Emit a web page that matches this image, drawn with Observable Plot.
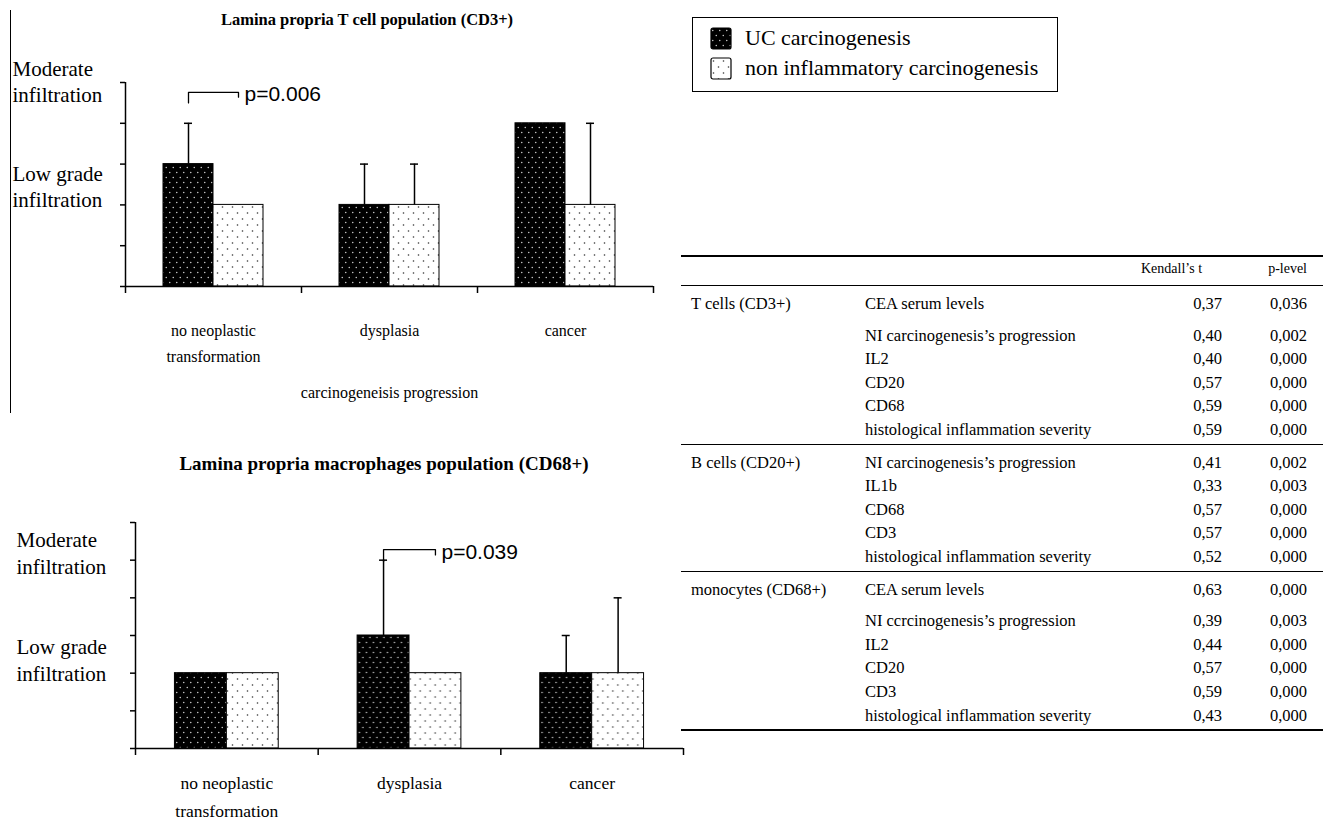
<!DOCTYPE html>
<html>
<head>
<meta charset="utf-8">
<script src="https://cdn.jsdelivr.net/npm/d3@7"></script>
<script src="https://cdn.jsdelivr.net/npm/@observablehq/plot@0.6"></script>
<style>
  html, body { margin: 0; padding: 0; background: #fff; }
  body { position: relative; width: 1323px; height: 820px; overflow: hidden;
         font-family: "Liberation Serif", "Times New Roman", serif; color: #000; }
  body svg { font-family: "Liberation Serif", "Times New Roman", serif !important; }
  .abs { position: absolute; }
  .chart-title { font-weight: bold; white-space: nowrap; transform: translate(-50%, -50%); line-height: 1; }
  #panelLine { left: 10px; top: 10px; width: 0; height: 403px; border-left: 1.5px solid #000; }
  #legend { left: 692px; top: 17px; width: 366px; height: 75px; border: 1.5px solid #000;
            box-sizing: border-box; padding: 7px 0 0 18px; }
  #legend, #legend * { font-family: "Liberation Serif", "Times New Roman", serif !important; }
  #legend .lg-swatches { font-size: 22px; margin: 0; color: #000; width: auto !important; }
  #legend .lg-swatch { padding-bottom: 4px; line-height: 26px; }
  #legend .lg-swatch-label { overflow: visible !important; text-overflow: clip !important; line-height: 26px; }
  #legend .lg-swatch > svg { margin-right: 14px; overflow: visible; }
  #legend rect { stroke: #000; stroke-width: 1.2px; rx: 2px; }
  #corr { left: 681px; top: 255px; width: 642px; border-collapse: collapse; table-layout: fixed;
          font-size: 16.5px; line-height: 23.6px; }
  #corr thead tr { border-top: 2px solid #000; border-bottom: 1px solid #000; }
  #corr th { font-weight: normal; font-size: 14px; line-height: 24px; padding: 0 0 4px 0; white-space: nowrap; }
  #corr td { padding: 0; white-space: nowrap; }
  #corr tbody { border-bottom: 1.5px solid #000; }
  #corr tbody:last-of-type { border-bottom: 2px solid #000; }
  #corr tr.first td { padding-top: 6px; }
  #corr tr.spaced td { padding-bottom: 8px; }
  #corr tr.last td { padding-bottom: 2px; }
  #corr .c0 { padding-left: 10px; text-align: left; }
  #corr .c1 { text-align: left; }
  #corr .c2 { text-align: right; padding-right: 8px; }
  #corr th.c2 { text-align: left; padding-right: 0; }
  #corr .c3 { text-align: right; padding-right: 16px; }
</style>
</head>
<body>
<div id="panelLine" class="abs"></div>
<script>
// ---------------- data ----------------
const series = ["UC carcinogenesis", "non inflammatory carcinogenesis"];
const categories = ["no neoplastic\ntransformation", "dysplasia", "cancer"];
const xAxisTitle = "carcinogeneisis progression";
const levelLabels = ["Moderate\ninfiltration", "Low grade\ninfiltration"];

// T cells (CD3+)
const cd3Title = "Lamina propria T cell population (CD3+)";
const cd3UC = [1.5, 1.0, 2.0];
const cd3UCUpper = [2.0, 1.5, null];
const cd3NI = [1.0, 1.0, 1.0];
const cd3NIUpper = [null, 1.5, 2.0];
const cd3Ticks = [0, 0.5, 1, 1.5, 2, 2.5];
const cd3LevelY = [2.52, 1.23];
const cd3SigCategory = 0;
const cd3BracketY = [2.25, 2.38, 2.38, 2.32];
const cd3P = "p=0.006";
const cd3PY = 2.35;

// macrophages (CD68+)
const cd68Title = "Lamina propria macrophages population (CD68+)";
const cd68UC = [1.0, 1.5, 1.0];
const cd68UCUpper = [null, 2.5, 1.5];
const cd68NI = [1.0, 1.0, 1.0];
const cd68NIUpper = [null, null, 2.0];
const cd68Ticks = [0, 0.5, 1, 1.5, 2, 2.5, 3];
const cd68LevelY = [2.61, 1.19];
const cd68SigCategory = 1;
const cd68BracketY = [2.48, 2.64, 2.64, 2.57];
const cd68P = "p=0.039";
const cd68PY = 2.60;

// correlation table
const tableHeader = ["", "", "Kendall’s t", "p-level"];
const tableGroups = ["T cells (CD3+)", "B cells (CD20+)", "monocytes (CD68+)"];
const tableVariables = [
  ["CEA serum levels", "NI carcinogenesis’s progression", "IL2", "CD20", "CD68", "histological inflammation severity"],
  ["NI carcinogenesis’s progression", "IL1b", "CD68", "CD3", "histological inflammation severity"],
  ["CEA serum levels", "NI ccrcinogenesis’s progression", "IL2", "CD20", "CD3", "histological inflammation severity"]
];
const tableTau = [
  ["0,37", "0,40", "0,40", "0,57", "0,59", "0,59"],
  ["0,41", "0,33", "0,57", "0,57", "0,52"],
  ["0,63", "0,39", "0,44", "0,57", "0,59", "0,43"]
];
const tableP = [
  ["0,036", "0,002", "0,000", "0,000", "0,000", "0,000"],
  ["0,002", "0,003", "0,000", "0,000", "0,000"],
  ["0,000", "0,003", "0,000", "0,000", "0,000", "0,000"]
];

// ---------------- styles ----------------
const SERIF = "Liberation Serif, Times New Roman, serif";
const SANS = "Liberation Sans, Arial, sans-serif";
const PAD_OUTER = 0.76;
const CAP = 8;
const PATTERNS = ["url(#dotUC)", "url(#dotNI)"];

// pattern definitions
const defs = d3.select("body").append("svg")
  .attr("width", 0).attr("height", 0).style("position", "absolute").append("defs");
{
  const p = defs.append("pattern").attr("id", "dotUC").attr("patternUnits", "userSpaceOnUse")
    .attr("width", 7).attr("height", 10);
  p.append("rect").attr("width", 7).attr("height", 10).attr("fill", "#000");
  p.append("circle").attr("cx", 1.75).attr("cy", 2.5).attr("r", 0.75).attr("fill", "#d0d0d0");
  p.append("circle").attr("cx", 5.25).attr("cy", 7.5).attr("r", 0.75).attr("fill", "#d0d0d0");
  const q = defs.append("pattern").attr("id", "dotNI").attr("patternUnits", "userSpaceOnUse")
    .attr("width", 10).attr("height", 12);
  q.append("rect").attr("width", 10).attr("height", 12).attr("fill", "#fff");
  q.append("circle").attr("cx", 2.5).attr("cy", 3).attr("r", 0.8).attr("fill", "#333");
  q.append("circle").attr("cx", 7.5).attr("cy", 9).attr("r", 0.8).attr("fill", "#333");
}

function chart(cfg) {
  const rows = [];
  categories.forEach((c, i) => {
    rows.push({cat: c, series: series[0], value: cfg.uc[i], upper: cfg.ucUpper[i]});
    rows.push({cat: c, series: series[1], value: cfg.ni[i], upper: cfg.niUpper[i]});
  });
  const errs = rows.filter(d => d.upper != null);
  const yMax = cfg.ticks[cfg.ticks.length - 1];
  const facetW = (cfg.width - cfg.marginLeft - cfg.marginRight) / categories.length;
  const step = facetW / (series.length + 2 * PAD_OUTER);
  const edge = step / 2 + step * PAD_OUTER;
  const capInset = (step - CAP) / 2;
  const edges = categories.map((c, i) => ({cat: c, top: i === 0 ? yMax : 0}));
  const sigCat = categories[cfg.sigCategory];
  const bracket = cfg.bracketY.map((y, i) => ({cat: sigCat, series: series[i < 2 ? 0 : 1], y}));

  const svg = Plot.plot({
    width: cfg.width, height: cfg.height,
    marginLeft: cfg.marginLeft, marginRight: cfg.marginRight,
    marginTop: cfg.marginTop, marginBottom: cfg.marginBottom,
    style: {background: "transparent", fontFamily: SERIF, color: "#000", overflow: "visible"},
    fx: {domain: categories, padding: 0, round: false, axis: null},
    x: {domain: series, paddingInner: 0, paddingOuter: PAD_OUTER, round: false, axis: null},
    y: {domain: [0, yMax], axis: null},
    color: {type: "ordinal", domain: series, range: PATTERNS},
    marks: [
      Plot.barY(rows, {fx: "cat", x: "series", y: "value", fill: "series", stroke: "#000", strokeWidth: 1}),
      Plot.ruleX(errs, {fx: "cat", x: "series", y1: "value", y2: "upper", stroke: "#000", strokeWidth: 1.5}),
      Plot.tickY(errs, {fx: "cat", x: "series", y: "upper", insetLeft: capInset, insetRight: capInset,
                        stroke: "#000", strokeWidth: 1.5}),
      Plot.axisY({ticks: cfg.ticks, tickSize: 5, tickFormat: () => "", strokeWidth: 1.5, label: null}),
      Plot.ruleY([0], {stroke: "#000", strokeWidth: 1.5}),
      Plot.ruleX(edges, {fx: "cat", x: () => series[0], y1: "top", y2: () => 0, insetBottom: -7,
                         dx: -edge, stroke: "#000", strokeWidth: 1.5}),
      Plot.ruleX(edges.slice(-1), {fx: "cat", x: () => series[series.length - 1], y1: () => 0, y2: () => 0,
                         insetBottom: -7, dx: edge, stroke: "#000", strokeWidth: 1.5}),
      Plot.line(bracket, {fx: "cat", x: "series", y: "y", stroke: "#000", strokeWidth: 1.3}),
      Plot.text([cfg.p], {fx: () => sigCat, x: () => series[1], y: () => cfg.pY, text: d => d,
                          textAnchor: "start", dx: 6, fontFamily: SANS, fontSize: cfg.pSize}),
      Plot.text(levelLabels, {fx: () => categories[0], y: (d, i) => cfg.levelY[i], text: d => d,
                              frameAnchor: "left", textAnchor: "start", dx: -(cfg.marginLeft - cfg.levelX),
                              fontFamily: SERIF, fontSize: cfg.levelSize, lineHeight: cfg.levelLine}),
      Plot.text(categories, {fx: d => d, text: d => d, frameAnchor: "bottom", lineAnchor: "top",
                             dy: cfg.catDy, fontFamily: SERIF, fontSize: cfg.catSize, lineHeight: cfg.catLine}),
      ...(cfg.axisTitle ? [Plot.text([cfg.axisTitle], {fx: () => categories[1], text: d => d,
                             frameAnchor: "bottom", lineAnchor: "top", dy: cfg.axisTitleDy,
                             fontFamily: SERIF, fontSize: cfg.catSize})] : [])
    ]
  });
  svg.style.position = "absolute";
  svg.style.left = cfg.left + "px";
  svg.style.top = cfg.top + "px";
  document.body.appendChild(svg);
  // keep the sans-serif p-value labels in their own font
  d3.select(svg).selectAll("g[font-family]").each(function () {
    const f = this.getAttribute("font-family");
    this.style.setProperty("font-family", f);
  });

  const t = document.createElement("div");
  t.className = "abs chart-title";
  t.textContent = cfg.title;
  t.style.left = cfg.titleX + "px";
  t.style.top = cfg.titleY + "px";
  t.style.fontSize = cfg.titleSize + "px";
  document.body.appendChild(t);
}

chart({
  title: cd3Title, titleX: 367, titleY: 20, titleSize: 16.5,
  uc: cd3UC, ucUpper: cd3UCUpper, ni: cd3NI, niUpper: cd3NIUpper, ticks: cd3Ticks,
  levelY: cd3LevelY, levelX: 12, levelSize: 21, levelLine: 1.24,
  sigCategory: cd3SigCategory, bracketY: cd3BracketY, p: cd3P, pY: cd3PY, pSize: 21,
  left: 0, top: 0, width: 660, height: 410,
  marginLeft: 125, marginRight: 7, marginTop: 82, marginBottom: 124,
  catDy: 31, catSize: 16, catLine: 1.625, axisTitle: xAxisTitle, axisTitleDy: 100
});

chart({
  title: cd68Title, titleX: 384, titleY: 463, titleSize: 19,
  uc: cd68UC, ucUpper: cd68UCUpper, ni: cd68NI, niUpper: cd68NIUpper, ticks: cd68Ticks,
  levelY: cd68LevelY, levelX: 16, levelSize: 21, levelLine: 1.28,
  sigCategory: cd68SigCategory, bracketY: cd68BracketY, p: cd68P, pY: cd68PY, pSize: 21,
  left: 0, top: 430, width: 700, height: 390,
  marginLeft: 135, marginRight: 17, marginTop: 92, marginBottom: 72,
  catDy: 21, catSize: 17.5, catLine: 1.6, axisTitle: null
});

// legend
const legendBox = document.createElement("div");
legendBox.id = "legend";
legendBox.className = "abs";
legendBox.appendChild(Plot.legend({
  color: {type: "ordinal", domain: series, range: PATTERNS},
  legend: "swatches", columns: 1, swatchWidth: 20, swatchHeight: 21, className: "lg",
  style: {fontFamily: SERIF, fontSize: "22px"}
}));
document.body.appendChild(legendBox);

// table
const table = d3.select("body").append("table").attr("id", "corr").attr("class", "abs");
const cg = table.append("colgroup");
[184, 276, 89, 93].forEach(w => cg.append("col").style("width", w + "px"));
const hr = table.append("thead").append("tr");
tableHeader.forEach((h, i) => hr.append("th").attr("class", "c" + i).text(h));
tableGroups.forEach((g, gi) => {
  const tb = table.append("tbody");
  const vars = tableVariables[gi];
  vars.forEach((v, ri) => {
    const tr = tb.append("tr")
      .classed("first", ri === 0)
      .classed("last", ri === vars.length - 1)
      .classed("spaced", v === "CEA serum levels");
    tr.append("td").attr("class", "c0").text(ri === 0 ? g : "");
    tr.append("td").attr("class", "c1").text(v);
    tr.append("td").attr("class", "c2").text(tableTau[gi][ri]);
    tr.append("td").attr("class", "c3").text(tableP[gi][ri]);
  });
});
</script>
</body>
</html>
